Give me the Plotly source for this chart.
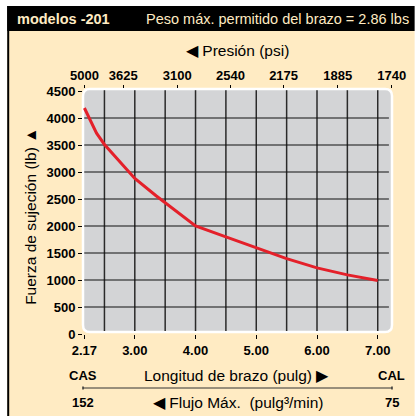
import plotly.graph_objects as go

# Clamping force vs. arm length
arm_length = [2.17, 2.37, 2.50, 3.00, 3.35, 4.00, 4.50, 5.00, 5.50, 6.00, 6.50, 7.00]
clamp_force = [4185, 3720, 3510, 2880, 2560, 2000, 1800, 1600, 1395, 1225, 1095, 990]

# Bottom axis ticks (arm length, in)
length_ticks = [2.17, 3.00, 4.00, 5.00, 6.00, 7.00]
length_labels = ["2.17", "3.00", "4.00", "5.00", "6.00", "7.00"]

# Top axis: pressure (psi) at the matching arm lengths
pressure_at_length = [2.17, 2.81, 3.70, 4.576, 5.45, 6.34, 7.23]
pressure_labels = ["5000", "3625", "3100", "2540", "2175", "1885", "1740"]

force_ticks = [0, 500, 1000, 1500, 2000, 2500, 3000, 3500, 4000, 4500]

W, H = 418, 416
L, R, T, B = 83, 21, 89, 82
PW, PH = W - L - R, H - T - B

BEIGE = "#FFEBC3"
GRAY = "#D3D4D6"
RED = "#E4202A"
SANS = "Liberation Sans, Arial, sans-serif"


def px(x):
    return (x - L) / PW


def py(y):
    return (H - B - y) / PH


fig = go.Figure()
fig.add_trace(go.Scatter(
    x=arm_length, y=clamp_force, mode="lines",
    line=dict(color=RED, width=3), hoverinfo="skip", showlegend=False,
))
# invisible trace so the top axis is drawn
fig.add_trace(go.Scatter(
    x=[arm_length[0]], y=[clamp_force[0]], xaxis="x2", mode="markers",
    marker=dict(opacity=0), hoverinfo="skip", showlegend=False,
))

shapes = []
# beige panel, left border and black header bar
shapes.append(dict(type="rect", xref="paper", yref="paper", layer="below",
                   x0=px(6), x1=px(W + 2), y0=py(31), y1=py(H + 2),
                   fillcolor=BEIGE, line=dict(width=0)))
shapes.append(dict(type="rect", xref="paper", yref="paper", layer="below",
                   x0=px(6), x1=px(W + 2), y0=py(6), y1=py(31),
                   fillcolor="black", line=dict(width=0)))
shapes.append(dict(type="line", xref="paper", yref="paper", layer="below",
                   x0=px(7), x1=px(7), y0=py(6), y1=py(H + 2),
                   line=dict(color="black", width=2)))

# rounded gray plot panel with white rim
x0, x1, y0, y1 = 0.0, 1.0, py(332), 1.0
rx, ry = 7 / PW, 7 / PH
path = (f"M {x0+rx},{y1} L {x1-rx},{y1} Q {x1},{y1} {x1},{y1-ry} "
        f"L {x1},{y0+ry} Q {x1},{y0} {x1-rx},{y0} L {x0+rx},{y0} "
        f"Q {x0},{y0} {x0},{y0+ry} L {x0},{y1-ry} Q {x0},{y1} {x0+rx},{y1} Z")
shapes.append(dict(type="path", xref="x domain", yref="y domain", layer="below",
                   path=path, fillcolor=GRAY, line=dict(color="white", width=2.5)))

# grid
for i in range(10):
    v = 2.5 + 0.5 * i
    shapes.append(dict(type="line", xref="x", yref="y domain", layer="below",
                       x0=v, x1=v, y0=y0 + 0.004, y1=0.995,
                       line=dict(color="#2A2A2A", width=1.5)))
for v in force_ticks[1:-1]:
    shapes.append(dict(type="line", xref="x domain", yref="y", layer="below",
                       x0=0.004, x1=0.99, y0=v, y1=v,
                       line=dict(color="#111111", width=1.2)))

# flow scale line under the arm-length title
shapes.append(dict(type="line", xref="paper", yref="paper",
                   x0=0, x1=1, y0=py(388), y1=py(388),
                   line=dict(color="#333333", width=1)))
for xe in (0, 1):
    shapes.append(dict(type="line", xref="paper", yref="paper",
                       x0=xe, x1=xe, y0=py(386.5), y1=py(389.5),
                       line=dict(color="#333333", width=1.5)))

ann = []


def text(x, y, s, size, color="black", anchor="center", angle=0, bold=False):
    ann.append(dict(xref="paper", yref="paper", x=px(x), y=py(y), text=(f"<b>{s}</b>" if bold else s),
                    showarrow=False, xanchor=anchor, yanchor="middle", textangle=angle,
                    font=dict(family=SANS, size=size, color=color)))


text(14, 19, "modelos -201", 14.5, BEIGE, "left", bold=True)
text(416, 19, "Peso máx. permitido del brazo = 2.86 lbs", 14.5, BEIGE, "right")
text(240, 51, "◀ Presión (psi)", 15.5)
text(29, 216, "Fuerza de sujeción (lb) ▲", 15.5, angle=-90)
text(83, 375, "CAS", 13, bold=True)
text(396, 375, "CAL", 13, bold=True)
text(239, 375, "Longitud de brazo (pulg) ▶", 15.5)
text(83, 402, "152", 13, bold=True)
text(397, 402, "75", 13, bold=True)
text(241, 402, "◀ Flujo Máx.  (pulg³/min)", 15.5)

tick_font = dict(family=SANS, size=13, color="black", weight="bold")
xrange = [2.147, 7.235]

fig.update_layout(
    width=W, height=H,
    margin=dict(l=L, r=R, t=T, b=B, pad=0),
    paper_bgcolor="white",
    plot_bgcolor="rgba(0,0,0,0)",
    shapes=shapes,
    annotations=ann,
    xaxis=dict(range=xrange, tickvals=length_ticks, ticktext=length_labels,
               ticks="outside", ticklen=4, tickcolor="black", tickwidth=1,
               showgrid=False, zeroline=False, showline=False,
               tickfont=tick_font, fixedrange=True),
    xaxis2=dict(range=xrange, overlaying="x", side="top", anchor="y",
                tickvals=pressure_at_length, ticktext=pressure_labels,
                ticks="outside", ticklen=3, tickcolor="black", tickwidth=1,
                showgrid=False, zeroline=False, showline=False,
                tickfont=tick_font, fixedrange=True),
    yaxis=dict(range=[0, 4537], tickvals=force_ticks,
               ticks="outside", ticklen=4, tickcolor="black", tickwidth=1,
               showgrid=False, zeroline=False, showline=False,
               tickfont=tick_font, fixedrange=True),
)

fig.write_html("out.html", config={"displayModeBar": False})
